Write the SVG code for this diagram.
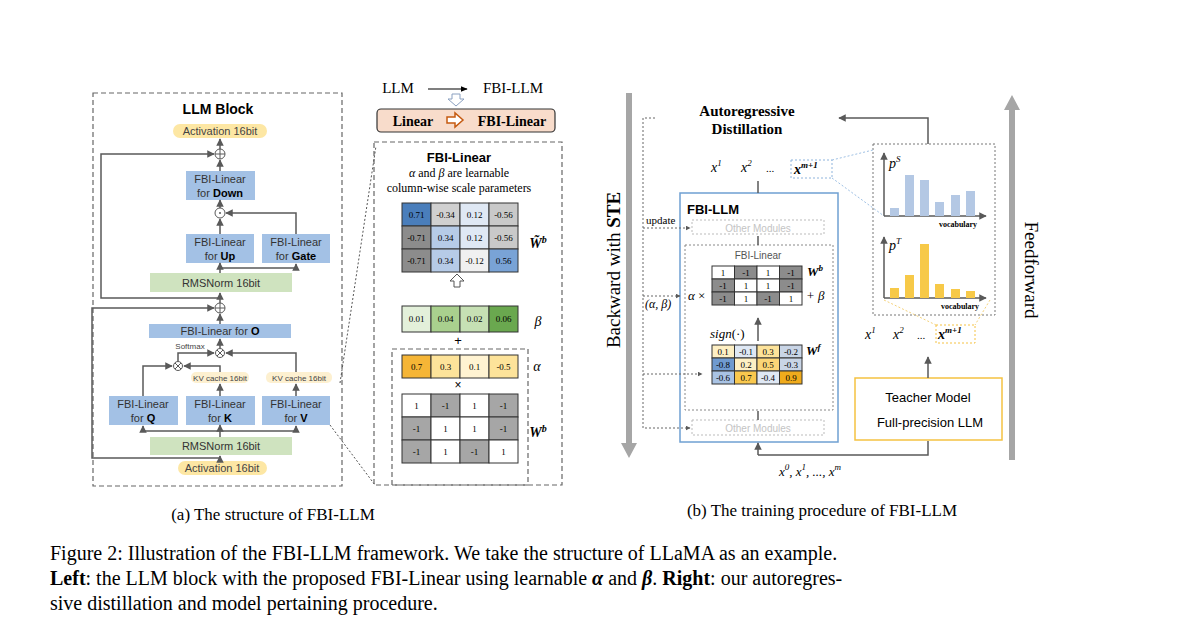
<svg xmlns="http://www.w3.org/2000/svg" width="1200" height="630" viewBox="0 0 1200 630">
<defs>
<marker id="ah" viewBox="0 0 10 10" refX="9" refY="5" markerWidth="5" markerHeight="5" orient="auto"><path d="M0,0L10,5L0,10z" fill="#595959"/></marker>
<marker id="ak" viewBox="0 0 10 10" refX="9" refY="5" markerWidth="6" markerHeight="6" orient="auto"><path d="M0,1L10,5L0,9z" fill="#000"/></marker>
<style>
.s{font-family:"Liberation Sans",Arial,sans-serif}
.r{font-family:"Liberation Serif","Times New Roman",serif}
.bn{fill:#a3c1e5}
.gn{fill:#cfe3bf}
.act{fill:#fde7a4}
.ln{stroke:#595959;stroke-width:1.5;fill:none}
.dl{stroke:#666;stroke-width:1;fill:none;stroke-dasharray:2,2}
.dash{stroke:#666;stroke-width:1.2;fill:none;stroke-dasharray:5,3}
.cell{stroke:#333;stroke-width:1}
.t9{font-size:9px}
</style>
</defs>
<rect width="1200" height="630" fill="#fff"/>

<!-- LEFT PANEL -->
<g id="llm-block">
<rect x="93" y="93" width="249" height="393" class="dash"/>
<text x="218" y="114" class="s" font-size="14" font-weight="bold" text-anchor="middle">LLM Block</text>
</g>
<g id="act-top"><rect x="173" y="124" width="94" height="14" rx="7" class="act"/><text x="220" y="135" class="s" font-size="11" text-anchor="middle" fill="#444">Activation 16bit</text></g>
<g id="add-top"><circle cx="220" cy="154" r="5" fill="#fff" stroke="#595959"/><path d="M215,154h10M220,149v10" stroke="#595959"/></g>
<g id="down"><rect x="186" y="171" width="69" height="29" class="bn"/><text x="220" y="183" class="s" font-size="11" text-anchor="middle" fill="#333">FBI-Linear</text><text x="220" y="197" class="s" font-size="11" text-anchor="middle" fill="#333">for <tspan font-weight="bold" fill="#000">Down</tspan></text></g>
<g id="mul-dot"><circle cx="220" cy="213" r="5" fill="#fff" stroke="#595959"/><circle cx="220" cy="213" r="1" fill="#595959"/></g>
<g id="up"><rect x="186" y="234" width="68" height="29" class="bn"/><text x="220" y="246" class="s" font-size="11" text-anchor="middle" fill="#333">FBI-Linear</text><text x="220" y="260" class="s" font-size="11" text-anchor="middle" fill="#333">for <tspan font-weight="bold" fill="#000">Up</tspan></text></g>
<g id="gate"><rect x="262" y="234" width="68" height="29" class="bn"/><text x="296" y="246" class="s" font-size="11" text-anchor="middle" fill="#333">FBI-Linear</text><text x="296" y="260" class="s" font-size="11" text-anchor="middle" fill="#333">for <tspan font-weight="bold" fill="#000">Gate</tspan></text></g>
<g id="rms-top"><rect x="150" y="273" width="142" height="19" class="gn"/><text x="221" y="287" class="s" font-size="11" text-anchor="middle" fill="#333">RMSNorm 16bit</text></g>
<g id="add-mid"><circle cx="220" cy="308" r="5" fill="#fff" stroke="#595959"/><path d="M215,308h10M220,303v10" stroke="#595959"/></g>
<g id="o"><rect x="149" y="324" width="142" height="14" class="bn"/><text x="220" y="335" class="s" font-size="11" text-anchor="middle" fill="#333">FBI-Linear for <tspan font-weight="bold" fill="#000">O</tspan></text></g>
<g id="softmax"><text x="190" y="349" class="s" font-size="8" text-anchor="middle" fill="#444">Softmax</text></g>
<g id="mul1"><circle cx="220" cy="353" r="4.5" fill="#fff" stroke="#595959"/><path d="M217,350l6,6M223,350l-6,6" stroke="#595959"/></g>
<g id="mul2"><circle cx="178" cy="366" r="4.5" fill="#fff" stroke="#595959"/><path d="M175,363l6,6M181,363l-6,6" stroke="#595959"/></g>
<g id="kvk"><rect x="191" y="372" width="58" height="11" rx="5" fill="#fdf0d0"/><text x="220" y="381" class="s" font-size="8" text-anchor="middle" fill="#444">KV cache 16bit</text></g>
<g id="kvv"><rect x="266" y="372" width="66" height="11" rx="5" fill="#fdf0d0"/><text x="299" y="381" class="s" font-size="8" text-anchor="middle" fill="#444">KV cache 16bit</text></g>
<g id="q"><rect x="109" y="396" width="69" height="29" class="bn"/><text x="143" y="408" class="s" font-size="11" text-anchor="middle" fill="#333">FBI-Linear</text><text x="143" y="422" class="s" font-size="11" text-anchor="middle" fill="#333">for <tspan font-weight="bold" fill="#000">Q</tspan></text></g>
<g id="k"><rect x="186" y="396" width="69" height="29" class="bn"/><text x="220" y="408" class="s" font-size="11" text-anchor="middle" fill="#333">FBI-Linear</text><text x="220" y="422" class="s" font-size="11" text-anchor="middle" fill="#333">for <tspan font-weight="bold" fill="#000">K</tspan></text></g>
<g id="v"><rect x="262" y="396" width="68" height="29" class="bn"/><text x="296" y="408" class="s" font-size="11" text-anchor="middle" fill="#333">FBI-Linear</text><text x="296" y="422" class="s" font-size="11" text-anchor="middle" fill="#333">for <tspan font-weight="bold" fill="#000">V</tspan></text></g>
<g id="rms-bot"><rect x="150" y="437" width="142" height="18" class="gn"/><text x="221" y="450" class="s" font-size="11" text-anchor="middle" fill="#333">RMSNorm 16bit</text></g>
<g id="act-bot"><rect x="178" y="461" width="89" height="14" rx="7" class="act"/><text x="222" y="472" class="s" font-size="11" text-anchor="middle" fill="#444">Activation 16bit</text></g>

<!-- MIDDLE PANEL -->
<g id="llm-title">
<text x="398" y="93" class="r" font-size="15" text-anchor="middle">LLM</text>
<text x="513" y="93" class="r" font-size="15" text-anchor="middle">FBI-LLM</text>
<path d="M452,94h8v5h4l-8,7l-8,-7h4z" fill="#fff" stroke="#8aa0c0"/>
</g>
<g id="linear-box">
<rect x="377" y="109" width="178" height="23" rx="4" fill="#f8dccb" stroke="#333" stroke-width="1.2"/>
<text x="413" y="126" class="r" font-size="14" font-weight="bold" text-anchor="middle">Linear</text>
<path d="M447,117h8v-4l8,7l-8,7v-4h-8z" fill="#fff" stroke="#c55a11" stroke-width="1.5"/>
<text x="512" y="126" class="r" font-size="14" font-weight="bold" text-anchor="middle">FBI-Linear</text>
</g>
<g id="fbi-linear-detail">
<rect x="374" y="142" width="188" height="343" class="dash"/>
<text x="459" y="162" class="s" font-size="13" font-weight="bold" text-anchor="middle">FBI-Linear</text>
<text x="459" y="177" class="r" font-size="12" text-anchor="middle"><tspan font-style="italic">α</tspan> and <tspan font-style="italic">β</tspan> are learnable</text>
<text x="459" y="192" class="r" font-size="12" text-anchor="middle">column-wise scale parameters</text>
<g class="r t9" text-anchor="middle">
<rect x="402" y="203" width="29" height="23" fill="#4a7ebb" class="cell"/><text x="416.5" y="218">0.71</text>
<rect x="431" y="203" width="29" height="23" fill="#d0d0d0" class="cell"/><text x="445.5" y="218">-0.34</text>
<rect x="460" y="203" width="29" height="23" fill="#dfe8f4" class="cell"/><text x="474.5" y="218">0.12</text>
<rect x="489" y="203" width="29" height="23" fill="#c9c9c9" class="cell"/><text x="503.5" y="218">-0.56</text>
<rect x="402" y="226" width="29" height="23" fill="#8c8c8c" class="cell"/><text x="416.5" y="241">-0.71</text>
<rect x="431" y="226" width="29" height="23" fill="#b6cbe7" class="cell"/><text x="445.5" y="241">0.34</text>
<rect x="460" y="226" width="29" height="23" fill="#dfe8f4" class="cell"/><text x="474.5" y="241">0.12</text>
<rect x="489" y="226" width="29" height="23" fill="#c9c9c9" class="cell"/><text x="503.5" y="241">-0.56</text>
<rect x="402" y="249" width="29" height="23" fill="#8c8c8c" class="cell"/><text x="416.5" y="264">-0.71</text>
<rect x="431" y="249" width="29" height="23" fill="#b6cbe7" class="cell"/><text x="445.5" y="264">0.34</text>
<rect x="460" y="249" width="29" height="23" fill="#f0f0f0" class="cell"/><text x="474.5" y="264">-0.12</text>
<rect x="489" y="249" width="29" height="23" fill="#79a3d6" class="cell"/><text x="503.5" y="264">0.56</text>
<rect x="402" y="306" width="29" height="26" fill="#e3f0da" class="cell"/><text x="416.5" y="322">0.01</text>
<rect x="431" y="306" width="29" height="26" fill="#a9d08e" class="cell"/><text x="445.5" y="322">0.04</text>
<rect x="460" y="306" width="29" height="26" fill="#c6e0b4" class="cell"/><text x="474.5" y="322">0.02</text>
<rect x="489" y="306" width="29" height="26" fill="#6aa84f" class="cell"/><text x="503.5" y="322">0.06</text>
<rect x="402" y="355" width="29" height="23" fill="#f5b536" class="cell"/><text x="416.5" y="370">0.7</text>
<rect x="431" y="355" width="29" height="23" fill="#fde39a" class="cell"/><text x="445.5" y="370">0.3</text>
<rect x="460" y="355" width="29" height="23" fill="#fff3d2" class="cell"/><text x="474.5" y="370">0.1</text>
<rect x="489" y="355" width="29" height="23" fill="#fde39a" class="cell"/><text x="503.5" y="370">-0.5</text>
<rect x="402" y="394" width="29" height="23" fill="#fff" class="cell"/><text x="416.5" y="409">1</text>
<rect x="431" y="394" width="29" height="23" fill="#a6a6a6" class="cell"/><text x="445.5" y="409">-1</text>
<rect x="460" y="394" width="29" height="23" fill="#fff" class="cell"/><text x="474.5" y="409">1</text>
<rect x="489" y="394" width="29" height="23" fill="#a6a6a6" class="cell"/><text x="503.5" y="409">-1</text>
<rect x="402" y="417" width="29" height="23" fill="#a6a6a6" class="cell"/><text x="416.5" y="432">-1</text>
<rect x="431" y="417" width="29" height="23" fill="#fff" class="cell"/><text x="445.5" y="432">1</text>
<rect x="460" y="417" width="29" height="23" fill="#fff" class="cell"/><text x="474.5" y="432">1</text>
<rect x="489" y="417" width="29" height="23" fill="#a6a6a6" class="cell"/><text x="503.5" y="432">-1</text>
<rect x="402" y="440" width="29" height="23" fill="#a6a6a6" class="cell"/><text x="416.5" y="455">-1</text>
<rect x="431" y="440" width="29" height="23" fill="#fff" class="cell"/><text x="445.5" y="455">1</text>
<rect x="460" y="440" width="29" height="23" fill="#a6a6a6" class="cell"/><text x="474.5" y="455">-1</text>
<rect x="489" y="440" width="29" height="23" fill="#fff" class="cell"/><text x="503.5" y="455">1</text>
</g>
<text x="538" y="248" class="r" font-size="14" font-weight="bold" font-style="italic" text-anchor="middle">W̃<tspan font-size="10" dy="-5">b</tspan></text>
<path d="M454,287v-6h-4l7,-7l7,7h-4v6z" fill="#fff" stroke="#555"/>
<text x="538" y="326" class="r" font-size="14" font-style="italic" text-anchor="middle">β</text>
<text x="458" y="345" class="s" font-size="13" text-anchor="middle">+</text>
<rect x="392" y="349" width="136" height="136" class="dash"/>
<text x="537" y="371" class="r" font-size="14" font-style="italic" text-anchor="middle">α</text>
<text x="458" y="389" class="s" font-size="12" text-anchor="middle">×</text>
<text x="538" y="437" class="r" font-size="14" font-weight="bold" font-style="italic" text-anchor="middle">W<tspan font-size="10" dy="-5">b</tspan></text>
</g>

<!-- RIGHT PANEL -->
<g id="backward"><path d="M626,93h6v350h5l-8,15l-8,-15h5z" fill="#a6a6a6"/>
<text transform="translate(620,270) rotate(-90)" class="r" font-size="19" text-anchor="middle">Backward with <tspan font-weight="bold">STE</tspan></text></g>
<g id="feedforward"><path d="M1009,460v-350h-5l8,-15l8,15h-5v350z" fill="#a6a6a6"/>
<text transform="translate(1025,270) rotate(90)" class="r" font-size="19" text-anchor="middle">Feedforward</text></g>
<g id="ar-distill"><text x="747" y="116" class="r" font-size="15" font-weight="bold" text-anchor="middle">Autoregressive</text>
<text x="747" y="134" class="r" font-size="15" font-weight="bold" text-anchor="middle">Distillation</text></g>
<g id="fbi-llm">
<rect x="680" y="193" width="158" height="249" fill="none" stroke="#6fa0d2" stroke-width="1.5"/>
<text x="687" y="214" class="s" font-size="13" font-weight="bold">FBI-LLM</text>
<rect x="692" y="220" width="132" height="14" fill="none" stroke="#bbb" stroke-dasharray="2,2"/>
<text x="758" y="232" class="s" font-size="10" fill="#c4c4c4" text-anchor="middle">Other Modules</text>
<rect x="685" y="245" width="148" height="165" fill="none" stroke="#888" stroke-dasharray="2,2"/>
<text x="758" y="259" class="s" font-size="10" fill="#555" text-anchor="middle">FBI-Linear</text>
<g class="r t9" text-anchor="middle" font-size="8">
<rect x="712" y="266" width="22.5" height="13" fill="#fff" class="cell"/><text x="723" y="276">1</text>
<rect x="734.5" y="266" width="22.5" height="13" fill="#8c8c8c" class="cell"/><text x="746" y="276">-1</text>
<rect x="757" y="266" width="22.5" height="13" fill="#fff" class="cell"/><text x="768" y="276">1</text>
<rect x="779.5" y="266" width="22.5" height="13" fill="#8c8c8c" class="cell"/><text x="791" y="276">-1</text>
<rect x="712" y="279" width="22.5" height="13" fill="#8c8c8c" class="cell"/><text x="723" y="289">-1</text>
<rect x="734.5" y="279" width="22.5" height="13" fill="#fff" class="cell"/><text x="746" y="289">1</text>
<rect x="757" y="279" width="22.5" height="13" fill="#fff" class="cell"/><text x="768" y="289">1</text>
<rect x="779.5" y="279" width="22.5" height="13" fill="#8c8c8c" class="cell"/><text x="791" y="289">-1</text>
<rect x="712" y="292" width="22.5" height="13" fill="#8c8c8c" class="cell"/><text x="723" y="302">-1</text>
<rect x="734.5" y="292" width="22.5" height="13" fill="#fff" class="cell"/><text x="746" y="302">1</text>
<rect x="757" y="292" width="22.5" height="13" fill="#8c8c8c" class="cell"/><text x="768" y="302">-1</text>
<rect x="779.5" y="292" width="22.5" height="13" fill="#fff" class="cell"/><text x="791" y="302">1</text>
<rect x="712" y="345" width="22.5" height="13" fill="#fdefc4" class="cell"/><text x="723" y="355">0.1</text>
<rect x="734.5" y="345" width="22.5" height="13" fill="#dfe8f4" class="cell"/><text x="746" y="355">-0.1</text>
<rect x="757" y="345" width="22.5" height="13" fill="#fde39a" class="cell"/><text x="768" y="355">0.3</text>
<rect x="779.5" y="345" width="22.5" height="13" fill="#c9d5e6" class="cell"/><text x="791" y="355">-0.2</text>
<rect x="712" y="358" width="22.5" height="13" fill="#6f9ad0" class="cell"/><text x="723" y="368">-0.8</text>
<rect x="734.5" y="358" width="22.5" height="13" fill="#fdefc4" class="cell"/><text x="746" y="368">0.2</text>
<rect x="757" y="358" width="22.5" height="13" fill="#fbd577" class="cell"/><text x="768" y="368">0.5</text>
<rect x="779.5" y="358" width="22.5" height="13" fill="#c9d5e6" class="cell"/><text x="791" y="368">-0.3</text>
<rect x="712" y="371" width="22.5" height="13" fill="#a9c3e4" class="cell"/><text x="723" y="381">-0.6</text>
<rect x="734.5" y="371" width="22.5" height="13" fill="#f9c84e" class="cell"/><text x="746" y="381">0.7</text>
<rect x="757" y="371" width="22.5" height="13" fill="#dfe8f4" class="cell"/><text x="768" y="381">-0.4</text>
<rect x="779.5" y="371" width="22.5" height="13" fill="#f0ab1c" class="cell"/><text x="791" y="381">0.9</text>
</g>
<text x="807" y="276" class="r" font-size="13" font-weight="bold" font-style="italic">W<tspan font-size="9" dy="-5">b</tspan></text>
<text x="688" y="300" class="r" font-size="13" font-style="italic">α <tspan font-style="normal">×</tspan></text>
<text x="806" y="300" class="r" font-size="13" font-style="italic">+ β</text>
<text x="710" y="338" class="r" font-size="13" font-style="italic">sign<tspan font-style="normal">(·)</tspan></text>
<text x="806" y="355" class="r" font-size="13" font-weight="bold" font-style="italic">W<tspan font-size="9" dy="-5">f</tspan></text>
<rect x="692" y="420" width="132" height="15" fill="none" stroke="#bbb" stroke-dasharray="2,2"/>
<text x="758" y="432" class="s" font-size="10" fill="#c4c4c4" text-anchor="middle">Other Modules</text>
</g>
<g id="student-out" class="r" font-style="italic" font-size="14">
<text x="711" y="172">x<tspan font-size="9" dy="-6">1</tspan></text>
<text x="741" y="172">x<tspan font-size="9" dy="-6">2</tspan></text>
<text x="766" y="172" font-style="normal" font-size="11">...</text>
<rect x="791" y="160" width="41" height="18" fill="none" stroke="#8fb4dc" stroke-dasharray="2,2"/>
<text x="794" y="174" font-weight="bold">x<tspan font-size="9" dy="-6">m+1</tspan></text>
</g>
<g id="teacher-out" class="r" font-style="italic" font-size="14">
<text x="865" y="339">x<tspan font-size="9" dy="-6">1</tspan></text>
<text x="893" y="339">x<tspan font-size="9" dy="-6">2</tspan></text>
<text x="917" y="339" font-style="normal" font-size="11">...</text>
<rect x="936" y="325" width="39" height="18" fill="none" stroke="#f5c242" stroke-dasharray="2,2"/>
<text x="938" y="339" font-weight="bold">x<tspan font-size="9" dy="-6">m+1</tspan></text>
</g>
<g id="teacher">
<rect x="855" y="378" width="147" height="62" fill="#fff" stroke="#f5c242" stroke-width="1.5"/>
<text x="928" y="402" class="s" font-size="13" text-anchor="middle">Teacher Model</text>
<text x="930" y="427" class="s" font-size="13" text-anchor="middle">Full-precision LLM</text>
</g>
<g id="charts">
<rect x="873" y="144" width="122" height="171" fill="none" stroke="#777" stroke-dasharray="2,2"/>
<path d="M884,216H986" class="ln" stroke-width="1" marker-end="url(#ah)"/>
<path d="M884,216V153" class="ln" stroke-width="1" marker-end="url(#ah)"/>
<g fill="#b4c8e4"><rect x="890" y="208" width="9" height="8"/><rect x="905" y="175" width="9" height="41"/><rect x="920" y="180" width="9" height="36"/><rect x="935" y="202" width="9" height="14"/><rect x="951" y="195" width="9" height="21"/><rect x="966" y="191" width="9" height="25"/></g>
<text x="889" y="168" class="r" font-size="14" font-style="italic">p<tspan font-size="9" dy="-6">S</tspan></text>
<text x="958" y="227" class="r" font-size="8" font-weight="bold" text-anchor="middle">vocabulary</text>
<path d="M884,298H986" class="ln" stroke-width="1" marker-end="url(#ah)"/>
<path d="M884,298V237" class="ln" stroke-width="1" marker-end="url(#ah)"/>
<g fill="#f7c948"><rect x="890" y="288" width="9" height="10"/><rect x="905" y="275" width="9" height="23"/><rect x="920" y="244" width="9" height="54"/><rect x="935" y="284" width="9" height="14"/><rect x="951" y="289" width="9" height="9"/><rect x="966" y="291" width="9" height="7"/></g>
<text x="889" y="250" class="r" font-size="14" font-style="italic">p<tspan font-size="9" dy="-6">T</tspan></text>
<text x="960" y="309" class="r" font-size="8" font-weight="bold" text-anchor="middle">vocabulary</text>
</g>
<g id="connectors">
<path d="M220,124V138" stroke="none"/>
<path d="M220,149V139" class="ln" marker-end="url(#ah)"/>
<path d="M220,171V160" class="ln" marker-end="url(#ah)"/>
<path d="M220,208V200" class="ln" marker-end="url(#ah)"/>
<path d="M220,234V219" class="ln" marker-end="url(#ah)"/>
<path d="M296,234V213H226" class="ln" marker-end="url(#ah)"/>
<path d="M220,273V263" class="ln" marker-end="url(#ah)"/>
<path d="M220,268H296V264" class="ln" marker-end="url(#ah)"/>
<path d="M220,303V293" class="ln" marker-end="url(#ah)"/>
<path d="M220,298H101V154H214" class="ln" marker-end="url(#ah)"/>
<path d="M220,324V314" class="ln" marker-end="url(#ah)"/>
<path d="M220,348V339" class="ln" marker-end="url(#ah)"/>
<path d="M178,361V353H214" class="ln" marker-end="url(#ah)"/>
<path d="M296,372V353H226" class="ln" marker-end="url(#ah)"/>
<path d="M220,372V366H184" class="ln" marker-end="url(#ah)"/>
<path d="M143,396V366H172" class="ln" marker-end="url(#ah)"/>
<path d="M220,396V384" class="ln" marker-end="url(#ah)"/>
<path d="M296,396V384" class="ln" marker-end="url(#ah)"/>
<path d="M220,437V425" class="ln" marker-end="url(#ah)"/>
<path d="M143,431H296" class="ln"/>
<path d="M143,431V426" class="ln" marker-end="url(#ah)"/>
<path d="M296,431V426" class="ln" marker-end="url(#ah)"/>
<path d="M220,461V456" class="ln" marker-end="url(#ah)"/>
<path d="M220,458H92V308H214" class="ln" marker-end="url(#ah)"/>
<path d="M330,425L375,485M340,383L376,146" stroke="#555" stroke-dasharray="2,2" fill="none"/>
<path d="M428,89H467" stroke="#000" stroke-width="1.2" marker-end="url(#ak)"/>
<path d="M928,144V118H839" class="ln" marker-end="url(#ah)"/>
<path d="M758,193V181M758,245V236M758,420V411M758,341V318" class="ln" marker-end="url(#ah)"/>
<path d="M758,455H928V441M758,455V443" class="ln" marker-end="url(#ah)"/>
<path d="M928,378V357" class="ln" marker-end="url(#ah)"/>
<path d="M655,118H643V428H690" class="dl" marker-end="url(#ah)"/>
<path d="M643,228H690" class="dl" marker-end="url(#ah)"/>
<path d="M643,296H680" class="dl" marker-end="url(#ah)"/>
<path d="M643,374H702" class="dl" marker-end="url(#ah)"/>
<path d="M832,160L873,150M832,178L884,216" stroke="#9ec0e4" stroke-dasharray="2,2" fill="none"/>
<path d="M884,300L936,325M990,300L975,325" stroke="#f5d27a" stroke-dasharray="2,2" fill="none"/>
</g>
<text x="646" y="224" class="r" font-size="11">update</text>
<text x="645" y="308" class="r" font-size="12" font-style="italic">(α, β)</text>
<text x="810" y="476" class="r" font-size="13" font-style="italic" text-anchor="middle">x<tspan font-size="9" dy="-6">0</tspan><tspan dy="6">, x</tspan><tspan font-size="9" dy="-6">1</tspan><tspan dy="6">, ..., x</tspan><tspan font-size="9" dy="-6">m</tspan></text>

<!-- CAPTIONS -->
<text x="273" y="520" class="r" font-size="17" text-anchor="middle">(a) The structure of FBI-LLM</text>
<text x="822" y="516" class="r" font-size="17" text-anchor="middle">(b) The training procedure of FBI-LLM</text>
<text x="50" y="560" class="r" font-size="20">Figure 2: Illustration of the FBI-LLM framework. We take the structure of LLaMA as an example.</text>
<text x="50" y="585" class="r" font-size="20"><tspan font-weight="bold">Left</tspan>: the LLM block with the proposed FBI-Linear using learnable <tspan font-weight="bold" font-style="italic">α</tspan> and <tspan font-weight="bold" font-style="italic">β</tspan>. <tspan font-weight="bold">Right</tspan>: our autoregres-</text>
<text x="50" y="610" class="r" font-size="20">sive distillation and model pertaining procedure.</text>
</svg>
